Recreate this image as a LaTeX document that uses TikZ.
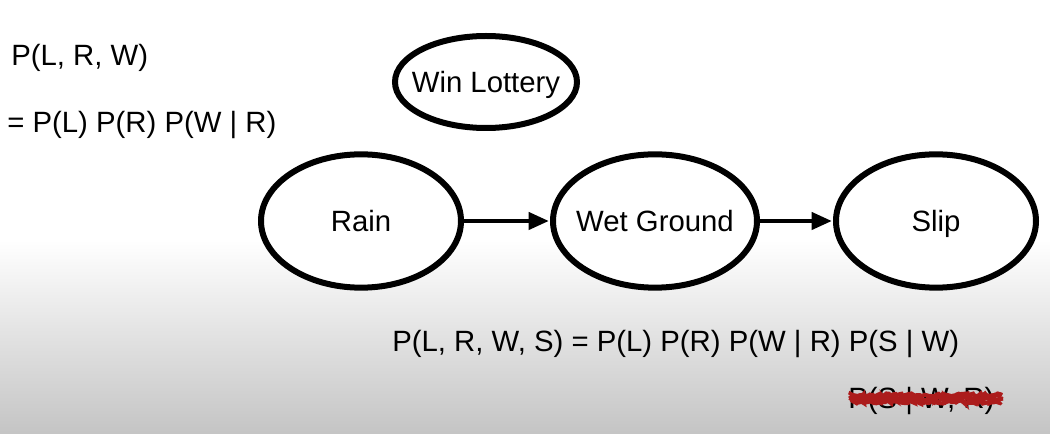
\documentclass[tikz,border=0pt]{standalone}
\usepackage{fontspec}
\setmainfont{Liberation Sans}
\usetikzlibrary{arrows.meta,shapes.geometric,decorations.pathmorphing}
\definecolor{scrib}{RGB}{172,28,28}
\begin{document}
\begin{tikzpicture}[x=0.75pt,y=-0.75pt,
  bnode/.style={draw=black,line width=4.5pt,fill=white,ellipse,inner sep=-10pt,text height=18pt,text depth=2pt,font=\fontsize{22}{26}\selectfont},
  conn/.style={line width=2.4pt,-{Triangle[length=15pt,width=13pt]},shorten >=1pt},
  formula/.style={font=\fontsize{22}{26}\selectfont,inner sep=0pt,anchor=west},
  scribble/.style={draw=scrib,line width=3pt,decorate,decoration={random steps,segment length=1.5pt,amplitude=1.2pt}}]
\useasboundingbox (0,0) rectangle (1050,434);
\fill[white] (0,0) rectangle (1050,240);
\shade[top color=white,bottom color=black!23] (0,240) rectangle (1050,434);
\node[bnode,minimum width=136.5pt,minimum height=69pt] (L) at (486,82) {Win Lottery};
\node[bnode,minimum width=150pt,minimum height=100pt] (R) at (361,221) {Rain};
\node[bnode,minimum width=153pt,minimum height=100pt] (W) at (655,221) {Wet Ground};
\node[bnode,minimum width=150pt,minimum height=100pt] (S) at (936,221) {Slip};
\draw[conn] (R) -- (W);
\draw[conn] (W) -- (S);
\node[formula] (f1) at (11,58) {P(L, R, W)};
\node[formula] (f2) at (7,125) {= P(L) P(R) P(W | R)};
\node[formula] (f3) at (392,344) {P(L, R, W, S) = P(L) P(R) P(W | R) P(S | W)};
\node[formula] (f4) at (848,401) {P(S | W, R)};
\coordinate (s1) at (850,395);
\coordinate (s2) at (1002,395);
\coordinate (s3) at (849,398.5);
\coordinate (s4) at (1003,398.5);
\coordinate (s5) at (851,402);
\coordinate (s6) at (1001,402);
\draw[scribble] (s1) -- (s2);
\draw[scribble] (s3) -- (s4);
\draw[scribble] (s5) -- (s6);
\draw[scribble,line width=2pt] (s2) -- (s3);
\draw[scribble,line width=2pt] (s4) -- (s5);
\end{tikzpicture}
\end{document}
